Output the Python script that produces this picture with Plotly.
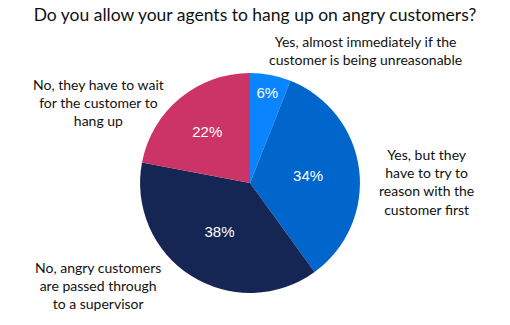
import plotly.graph_objects as go

# Survey responses, in clockwise order from 12 o'clock
categories = [
    "Yes, almost immediately if the<br>customer is being unreasonable",
    "Yes, but they<br>have to try to<br>reason with the<br>customer first",
    "No, angry customers<br>are passed through<br>to a supervisor",
    "No, they have to wait<br>for the customer to<br>hang up",
]
shares = [6, 34, 38, 22]
colors = ["#0a84ff", "#0066cc", "#162654", "#cc3366"]

# Where each category label is centred (paper coordinates)
label_pos = [
    (0.716, 0.845),
    (0.837, 0.4415),
    (0.192, 0.123),
    (0.193, 0.686),
]

fig = go.Figure(
    go.Pie(
        labels=categories,
        values=shares,
        marker=dict(colors=colors, line=dict(width=0)),
        sort=False,
        direction="clockwise",
        rotation=0,
        texttemplate="%{value}%",
        textposition="inside",
        insidetextorientation="horizontal",
        textfont=dict(family="Liberation Sans, Arial", size=15, color="white"),
        domain=dict(x=[0.2745, 0.7059], y=[0.0985, 0.775]),
        showlegend=False,
        hoverinfo="label+percent",
    )
)

for text, (x, y) in zip(categories, label_pos):
    fig.add_annotation(
        text=text, x=x, y=y, xref="paper", yref="paper",
        xanchor="center", yanchor="middle",
        showarrow=False, align="center",
        font=dict(family="Lato, Open Sans, sans-serif", size=14, color="#111111"),
    )

fig.update_layout(
    width=510, height=325,
    margin=dict(l=0, r=0, t=0, b=0),
    paper_bgcolor="white",
    title=dict(
        text="Do you allow your agents to hang up on angry customers?",
        x=0.5, xanchor="center", y=0.955, yanchor="middle",
        font=dict(family="Lato, Open Sans, sans-serif", size=17.5, color="#111111"),
    ),
)

fig.write_html("out.html")
